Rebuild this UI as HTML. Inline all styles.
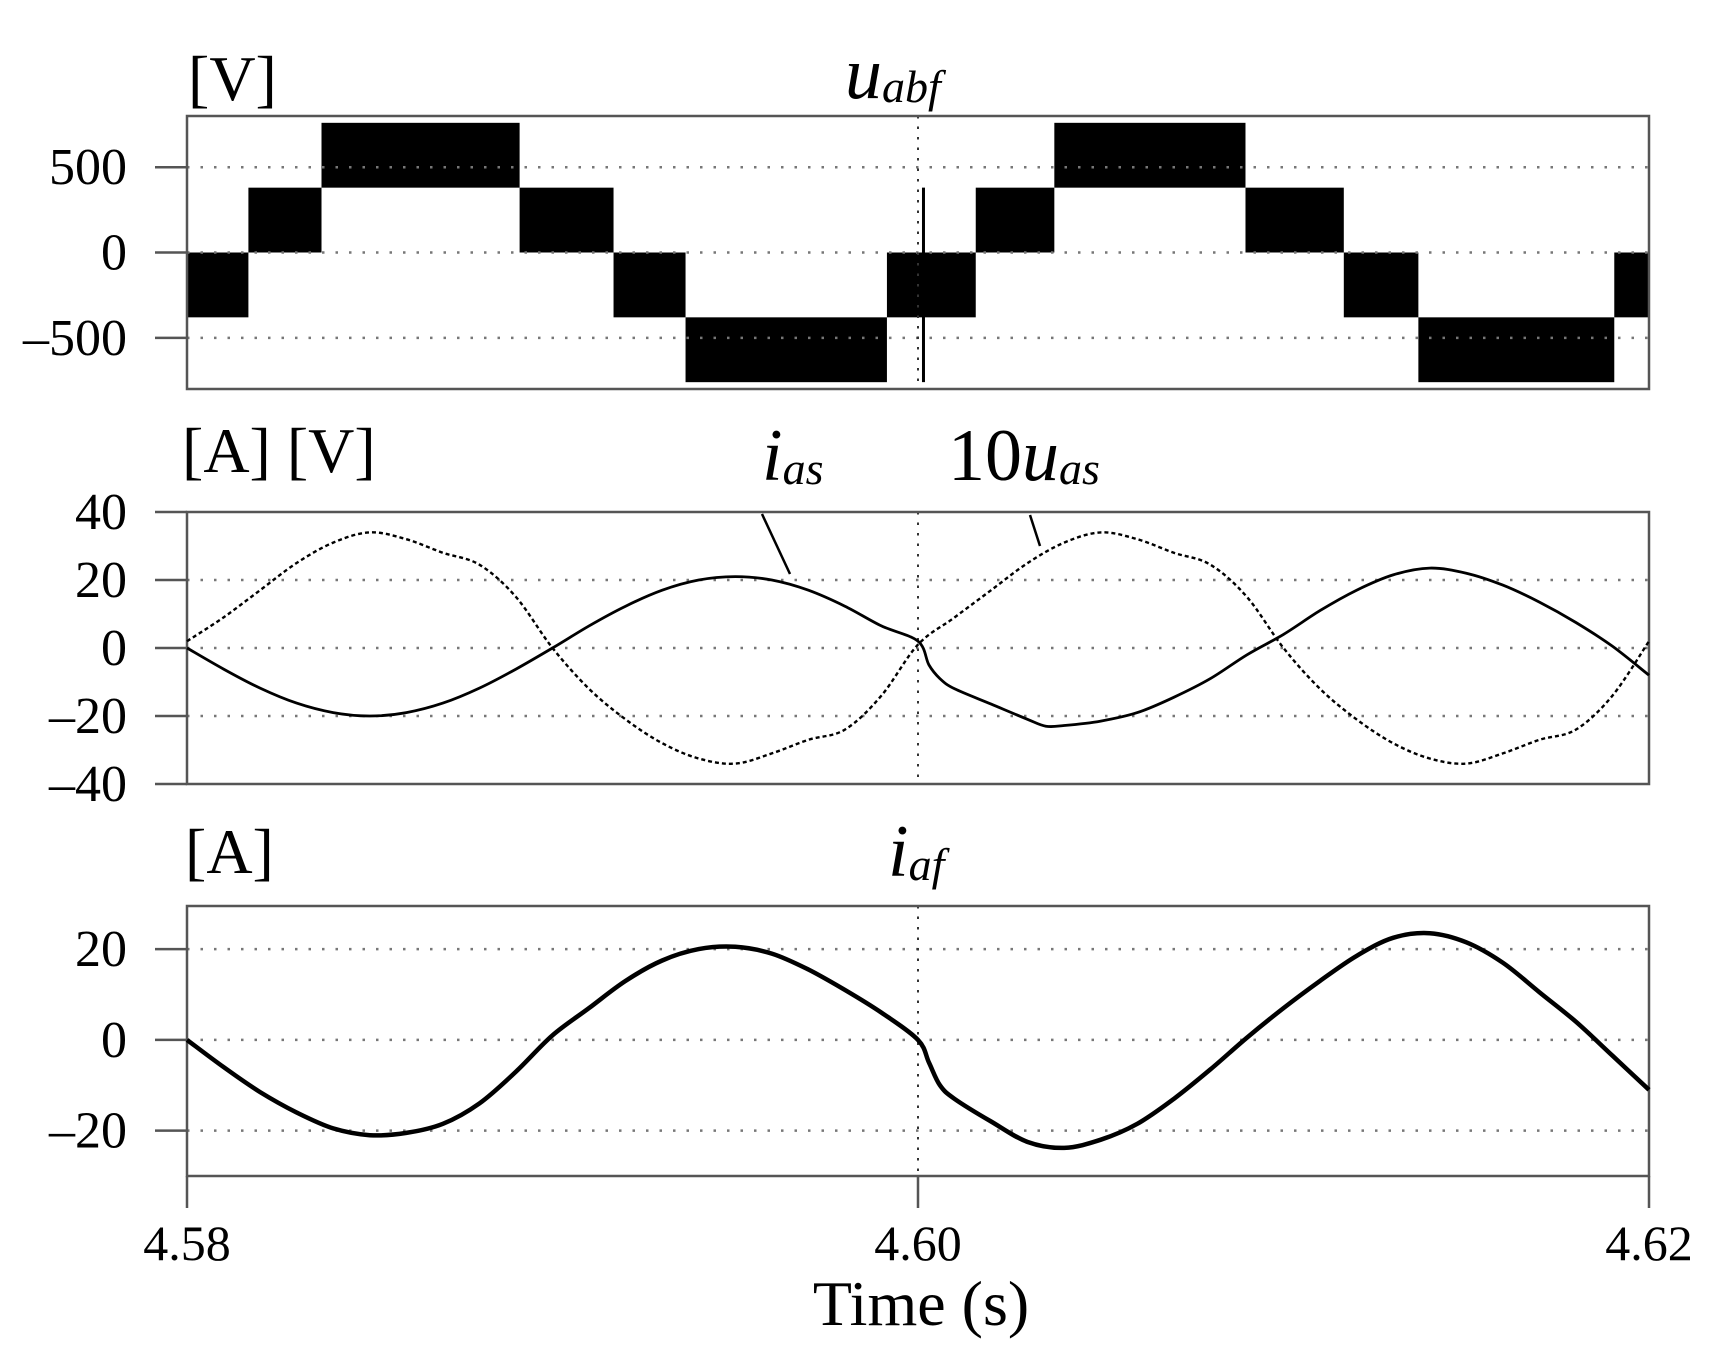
<!DOCTYPE html>
<html><head><meta charset="utf-8"><style>
html,body{margin:0;padding:0;background:#fff;}
svg{display:block;}
text{font-family:"Liberation Serif","DejaVu Serif",serif;}
</style></head><body>
<svg id="chart" width="1715" height="1348" viewBox="0 0 1715 1348" xmlns="http://www.w3.org/2000/svg" font-family="Liberation Serif, serif">
<g id="g1"></g>
<g id="g2"></g>
<g id="g3"></g>
<g id="labels">
<text x="188" y="100" font-size="64">[V]</text>
<text x="845" y="98" font-size="74" font-style="italic">u<tspan font-size="46" dy="4">abf</tspan></text>
<text x="182" y="472" font-size="64">[A] [V]</text>
<text x="762" y="480" font-size="74" font-style="italic">i<tspan font-size="46" dy="4">as</tspan></text>
<text x="948" y="480" font-size="74">10<tspan font-style="italic">u</tspan><tspan font-size="46" font-style="italic" dy="4">as</tspan></text>
<text x="185" y="873" font-size="64">[A]</text>
<text x="888" y="876" font-size="74" font-style="italic">i<tspan font-size="46" dy="4">af</tspan></text>
<text x="921" y="1325" font-size="64" text-anchor="middle">Time (s)</text>
<line x1="790" y1="574" x2="762" y2="514" stroke="#000" stroke-width="2.5"/>
<line x1="1040" y1="546" x2="1030" y2="515" stroke="#000" stroke-width="2.5"/>
</g>
</svg>
<script>
// time axis (ms after 4.58 s)
const xTickVals=[0,20,40];
const xTickLabels=["4.58","4.60","4.62"];
// panel 1: six-step voltage blocks
const segStart=[0,1.68,3.68,9.1,11.67,13.64,19.15,21.58,23.73,28.96,31.65,33.69,39.05];
const segEnd=[1.68,3.68,9.1,11.67,13.64,19.15,21.58,23.73,28.96,31.65,33.69,39.05,40];
const segLow=[-380,0,380,0,-380,-760,-380,0,380,0,-380,-760,-380];
const segHigh=[0,380,760,380,0,-380,0,380,760,380,0,-380,0];
const spikeT=[20.15];
const spikeLow=[-760];
const spikeHigh=[380];
const p1Ticks=[500,0,-500];
// panel 2
const tIas=[0,1,2,3,4,5,6,7,8,9,10,11,12,13,14,15,16,17,18,19,20,20.3,20.6,21,22,23,23.5,24,25,26,27,28,29,30,31,32,33,34,35,36,37,38,39,40];
const ias=[0,-6.2,-11.8,-16.2,-19,-20,-19,-16.2,-11.8,-6.2,0,6.5,12.3,17,20,21,20,17,12.3,6.5,2,-5,-9,-12,-16.5,-21,-23,-22.8,-21.5,-19,-14.5,-9,-2,4,11,17,21.5,23.5,22,18.5,13.5,7.5,0.5,-8];
const tUas=[0,1,2,3,4,5,6,7,8,9,10,11,12,13,14,15,16,17,18,19,20,21,22,23,24,25,26,27,28,29,30,31,32,33,34,35,36,37,38,39,40];
const uas10=[2,9,17,25,31,34,32,28,24.5,15,0,-12,-21,-28,-32.5,-34,-31,-27,-24,-14,1,9,17,25,31,34,32,28,24.5,15,0,-12,-21,-28,-32.5,-34,-31,-27,-24,-14,2];
const p2Ticks=[40,20,0,-20,-40];
// panel 3
const tIaf=[0,1,2,3,4,5,6,7,8,9,10,11,12,13,14,15,16,17,18,19,20,20.3,20.6,21,22,23,24,25,26,27,28,29,30,31,32,33,34,35,36,37,38,39,40];
const iaf=[0,-6,-11.5,-16,-19.5,-21,-20.5,-18.5,-14,-7,1,7,13,17.5,20,20.5,19,15.5,11,6,0,-5,-10,-13,-18,-22.5,-23.8,-22,-18.5,-13,-6.5,0.5,7,13,18.5,22.5,23.5,21.5,17,10.5,4,-3.5,-11];
const p3Ticks=[20,0,-20];

const NS="http://www.w3.org/2000/svg";
const L=187,R=1649;
const X=t=>L+(t/40)*(R-L);
function mk(tag,attrs,parent){const e=document.createElementNS(NS,tag);for(const k in attrs)e.setAttribute(k,attrs[k]);parent.appendChild(e);return e;}
function axisY(top,bot,vmax,vmin){return v=>top+(vmax-v)/(vmax-vmin)*(bot-top);}

function frame(g,top,bot,Y,ticks,name){
  ticks.forEach(v=>{
    const y=Y(v);
    if(y>top+2&&y<bot-2){const gl=mk('line',{x1:L,x2:R,y1:y,y2:y,stroke:'#777','stroke-width':2.5,'stroke-dasharray':'2.5 11'},g);
    }
    const tk=mk('line',{x1:L-32,x2:L,y1:y,y2:y,stroke:'#555','stroke-width':2.5},g);
    
    const tx=mk('text',{x:L-60,y:y+17,'font-size':52,'text-anchor':'end',style:'font-family:"Liberation Serif",serif'},g);
    tx.textContent=(v<0?'\u2013'+(-v):String(v));
    
  });
  const vl=mk('line',{x1:X(20),x2:X(20),y1:top,y2:bot,stroke:'#333','stroke-width':2,'stroke-dasharray':'2.5 8'},g);
  
  const fr=mk('rect',{x:L,y:top,width:R-L,height:bot-top,fill:'none',stroke:'#555','stroke-width':2.5},g);
  
}
function path(ts,vs,Y){
  const p=ts.map((t,i)=>[X(t),Y(vs[i])]);
  let d='M'+p[0][0].toFixed(1)+' '+p[0][1].toFixed(1);
  for(let i=0;i<p.length-1;i++){
    const p0=p[Math.max(0,i-1)],p1=p[i],p2=p[i+1],p3=p[Math.min(p.length-1,i+2)];
    const c1x=p1[0]+(p2[0]-p0[0])/6,c1y=p1[1]+(p2[1]-p0[1])/6;
    const c2x=p2[0]-(p3[0]-p1[0])/6,c2y=p2[1]-(p3[1]-p1[1])/6;
    d+=' C'+c1x.toFixed(1)+' '+c1y.toFixed(1)+' '+c2x.toFixed(1)+' '+c2y.toFixed(1)+' '+p2[0].toFixed(1)+' '+p2[1].toFixed(1);
  }
  return d;
}

// panel 1
const g1=document.getElementById('g1');
const Y1=axisY(116,389,800,-800);
segStart.forEach((s,i)=>{
  const r=mk('rect',{x:X(s),y:Y1(segHigh[i]),width:X(segEnd[i])-X(s),height:Y1(segLow[i])-Y1(segHigh[i]),fill:'#000'},g1);
  
});
spikeT.forEach((t,i)=>{
  const s=mk('line',{x1:X(t),x2:X(t),y1:Y1(spikeHigh[i]),y2:Y1(spikeLow[i]),stroke:'#000','stroke-width':3},g1);
  
});
frame(g1,116,389,Y1,p1Ticks,'p1');

// panel 2
const g2=document.getElementById('g2');
const Y2=axisY(512,784,40,-40);
frame(g2,512,784,Y2,p2Ticks,'p2');
const l1=mk('path',{d:path(tIas,ias,Y2),fill:'none',stroke:'#000','stroke-width':2.8,'stroke-linejoin':'round'},g2);

const l2=mk('path',{d:path(tUas,uas10,Y2),fill:'none',stroke:'#000','stroke-width':2.4,'stroke-dasharray':'4 3'},g2);


// panel 3
const g3=document.getElementById('g3');
const Y3=axisY(906,1176,29.5,-30);
frame(g3,906,1176,Y3,p3Ticks,'p3');
const l3=mk('path',{d:path(tIaf,iaf,Y3),fill:'none',stroke:'#000','stroke-width':4.5,'stroke-linejoin':'round'},g3);


// x ticks
xTickVals.forEach((t,i)=>{
  const tk=mk('line',{x1:X(t),x2:X(t),y1:1176,y2:1208,stroke:'#555','stroke-width':2.5},g3);
  
  const tx=mk('text',{x:X(t),y:1260,'font-size':50,'text-anchor':'middle',style:'font-family:"Liberation Serif",serif'},g3);
  tx.textContent=xTickLabels[i];
  
});
</script>
</body></html>
